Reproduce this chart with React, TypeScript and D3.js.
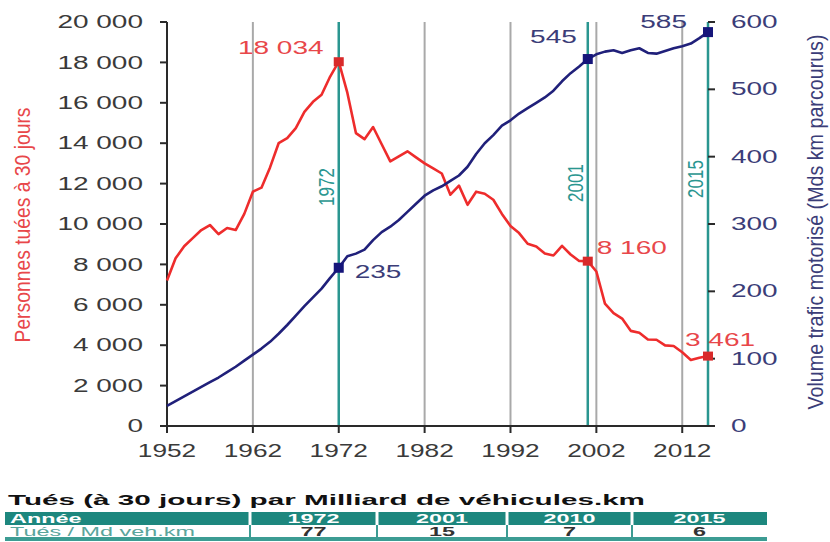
import React from "react";
import * as d3 from "d3";

const years = d3.range(1952, 2016);
const killed = [
  7200, 8300, 8900, 9300, 9700, 9950, 9500, 9800, 9700, 10500,
  11600, 11800, 12800, 14000, 14250, 14750, 15550, 16050, 16400, 17300,
  18034, 16500, 14500, 14200, 14800, 13950, 13100, 13350, 13600, 13300,
  13000, 12750, 12500, 11450, 11900, 10950, 11600, 11500, 11200, 10500,
  9900, 9550, 9020, 8890, 8540, 8440, 8920, 8490, 8170, 8160,
  7650, 6060, 5590, 5320, 4710, 4620, 4280, 4270, 3990, 3960,
  3650, 3270, 3380, 3461,
];
const traffic = [
  30, 37, 44, 51, 58, 65, 72, 80, 88, 97,
  106, 115, 125, 137, 150, 164, 178, 191, 204, 220,
  235, 252, 256, 262, 276, 288, 296, 306, 318, 330,
  342, 350, 356, 364, 372, 385, 404, 420, 432, 446,
  454, 464, 472, 480, 488, 498, 512, 524, 534, 545,
  552, 556, 558, 554, 558, 561, 554, 553, 557, 561,
  564, 568, 576, 585,
];
const leftTicks = d3.range(0, 20001, 2000);
const rightTicks = d3.range(0, 601, 100);
const xTicks = d3.range(1952, 2013, 10);
const grayYears = [1962, 1982, 1992, 2002, 2012];
const tealYears = [1972, 2001, 2015];
const killedMarks = [
  { year: 1972, value: 18034, label: "18 034" },
  { year: 2001, value: 8160, label: "8 160" },
  { year: 2015, value: 3461, label: "3 461" },
];
const trafficMarks = [
  { year: 1972, value: 235, label: "235" },
  { year: 2001, value: 545, label: "545" },
  { year: 2015, value: 585, label: "585" },
];
const tableTitle = "Tués (à 30 jours) par Milliard de véhicules.km";
const tableYears = ["1972", "2001", "2010", "2015"];
const tableRates = ["77", "15", "7", "6"];

const fmt = (v: number) => {
  const s = String(v);
  return s.length > 3 ? s.slice(0, s.length - 3) + " " + s.slice(-3) : s;
};

const RED = "#ee2c2c";
const RED_TXT = "#e8474a";
const NAVY = "#20207a";
const NAVY_TXT = "#3b3d78";
const TEAL = "#2a9690";
const GRAY = "#a9a9a9";
const AXIS = "#2a2a2a";
const LBL = "#3a3a3a";
const SX = 1.6;

function HText(props: {
  x: number; y: number; text: string; fill: string; size?: number;
  anchor?: "start" | "middle" | "end"; weight?: string; sx?: number;
}) {
  const { x, y, text, fill, size = 17.5, anchor = "start", weight = "normal", sx = SX } = props;
  return (
    <text
      transform={`translate(${x},${y}) scale(${sx},1)`}
      textAnchor={anchor}
      dy="0.35em"
      fontSize={size}
      fontWeight={weight}
      fill={fill}
      fontFamily="'Liberation Sans', Arial, sans-serif"
    >
      {text}
    </text>
  );
}

export default function App() {
  const x = d3.scaleLinear().domain([1952, 2015]).range([167, 708]);
  const yL = d3.scaleLinear().domain([0, 20000]).range([426, 22]);
  const yR = d3.scaleLinear().domain([0, 600]).range([426, 22]);

  const redLine = d3.line<number>().x((_, i) => x(years[i])).y((d) => yL(d));
  const blueLine = d3.line<number>().x((_, i) => x(years[i])).y((d) => yR(d));

  const colX = [5, 250, 377, 507, 632, 767];
  const font = "'Liberation Sans', Arial, sans-serif";

  return (
    <svg
      width={830}
      height={542}
      style={{ position: "fixed", left: 0, top: 0, background: "#fff" }}
    >
      <rect width={830} height={542} fill="#fff" />
      {/* vertical reference lines */}
      {grayYears.map((yr) => (
        <line key={"g" + yr} x1={x(yr)} x2={x(yr)} y1={yL(20000)} y2={yL(0)} stroke={GRAY} strokeWidth={2} />
      ))}
      {tealYears.map((yr) => (
        <line key={"t" + yr} x1={x(yr)} x2={x(yr)} y1={yL(20000)} y2={yL(0)} stroke={TEAL} strokeWidth={2.5} />
      ))}
      {/* teal year labels */}
      {tealYears.map((yr) => (
        <text
          key={"tl" + yr}
          transform={`translate(${x(yr) - 13},${yr === 2015 ? 179 : yr === 2001 ? 183 : 187}) scale(1.35,1) rotate(-90)`}
          textAnchor="middle"
          dy="0.35em"
          fontSize={17}
          fill={TEAL}
          fontFamily={font}
        >
          {yr}
        </text>
      ))}

      {/* axes */}
      <line x1={167} x2={167} y1={22} y2={426} stroke={AXIS} strokeWidth={2} />
      <line x1={166} x2={714} y1={426} y2={426} stroke={AXIS} strokeWidth={2} />
      {leftTicks.map((t) => (
        <g key={"lt" + t}>
          <line x1={160} x2={167} y1={yL(t)} y2={yL(t)} stroke={AXIS} strokeWidth={2} />
          <HText x={143} y={yL(t)} text={fmt(t)} fill={LBL} anchor="end" />
        </g>
      ))}
      {rightTicks.map((t) => (
        <g key={"rt" + t}>
          <line x1={708} x2={715} y1={yR(t)} y2={yR(t)} stroke={AXIS} strokeWidth={2} />
          <HText x={731} y={yR(t)} text={String(t)} fill={NAVY_TXT} anchor="start" />
        </g>
      ))}
      {xTicks.map((t) => (
        <g key={"xt" + t}>
          <line x1={x(t)} x2={x(t)} y1={426} y2={433} stroke={AXIS} strokeWidth={2} />
          <HText x={x(t)} y={451} text={String(t)} fill={LBL} anchor="middle" sx={1.5} />
        </g>
      ))}

      {/* axis titles */}
      <text
        transform="translate(22,225) scale(1.35,1) rotate(-90)"
        textAnchor="middle"
        dy="0.35em"
        fontSize={16}
        fill={RED_TXT}
        fontFamily={font}
        textLength={235}
        lengthAdjust="spacingAndGlyphs"
      >
        Personnes tuées à 30 jours
      </text>
      <text
        transform="translate(815,222) scale(1.4,1) rotate(-90)"
        textAnchor="middle"
        dy="0.35em"
        fontSize={16}
        fill={NAVY_TXT}
        fontFamily={font}
        textLength={375}
        lengthAdjust="spacingAndGlyphs"
      >
        Volume trafic motorisé (Mds km parcourus)
      </text>

      {/* series */}
      <path d={redLine(killed) || ""} fill="none" stroke={RED} strokeWidth={2.6} strokeLinejoin="round" />
      <path d={blueLine(traffic) || ""} fill="none" stroke={NAVY} strokeWidth={2.6} strokeLinejoin="round" />

      {/* markers */}
      {killedMarks.map((m) => (
        <rect key={"km" + m.year} x={x(m.year) - 5} y={yL(m.value) - 4.5} width={10} height={9} fill="#d82a2a" />
      ))}
      {trafficMarks.map((m) => (
        <rect key={"tm" + m.year} x={x(m.year) - 5} y={yR(m.value) - 5} width={10} height={10} fill="#15157a" />
      ))}

      {/* value labels */}
      <HText x={x(1972) - 58} y={yL(18034) - 14} text={killedMarks[0].label} fill={RED_TXT} anchor="middle" />
      <HText x={x(2001) + 9} y={yL(8160) - 13} text={killedMarks[1].label} fill={RED_TXT} />
      <HText x={x(2015) - 23} y={yL(3461) - 16} text={killedMarks[2].label} fill={RED_TXT} />
      <HText x={x(1972) + 16} y={yR(235) + 4} text={trafficMarks[0].label} fill={NAVY_TXT} />
      <HText x={x(2001) - 11} y={yR(545) - 22} text={trafficMarks[1].label} fill={NAVY_TXT} anchor="end" />
      <HText x={x(2015) - 21} y={yR(585) - 10} text={trafficMarks[2].label} fill={NAVY_TXT} anchor="end" />

      {/* table */}
      <text
        x={8}
        y={505}
        fontSize={15}
        fontWeight="bold"
        fill="#111"
        fontFamily={font}
        textLength={637}
        lengthAdjust="spacingAndGlyphs"
      >
        {tableTitle}
      </text>
      <rect x={5} y={512} width={762} height={13} fill="#1d877e" />
      <rect x={5} y={525} width={762} height={13} fill="#fff" stroke="none" />
      <line x1={5} x2={767} y1={539} y2={539} stroke="#3c9c93" strokeWidth={4} />
      {colX.slice(1, 5).map((cx, i) => (
        <g key={"sep" + i}>
          <line x1={cx} x2={cx} y1={512} y2={525} stroke="#fff" strokeWidth={3} />
          <line x1={cx} x2={cx} y1={525} y2={538} stroke="#3c9c93" strokeWidth={2} />
        </g>
      ))}
      <HText x={10} y={518.5} text="Année" fill="#fff" size={13} weight="bold" sx={1.8} />
      <HText x={10} y={531.5} text="Tués / Md veh.km" fill="#5aa59c" size={13} sx={1.8} />
      {tableYears.map((yr, i) => (
        <HText key={"ty" + yr} x={(colX[i + 1] + colX[i + 2]) / 2} y={518.5} text={yr} fill="#fff" size={13} weight="bold" anchor="middle" sx={1.8} />
      ))}
      {tableRates.map((r, i) => (
        <HText key={"tr" + i} x={(colX[i + 1] + colX[i + 2]) / 2} y={531.5} text={r} fill="#333" size={13} weight="bold" anchor="middle" sx={1.8} />
      ))}
    </svg>
  );
}
